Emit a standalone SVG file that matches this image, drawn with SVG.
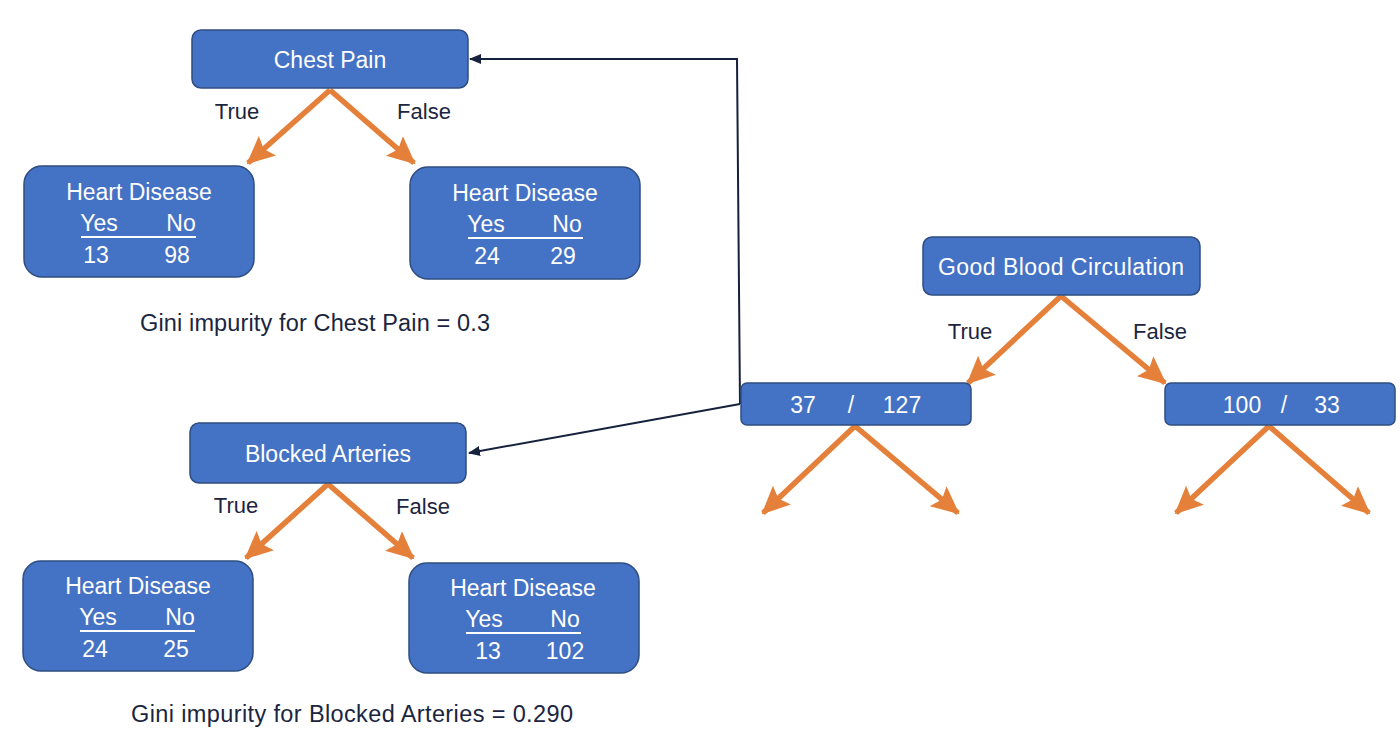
<svg xmlns="http://www.w3.org/2000/svg" width="1400" height="755" viewBox="0 0 1400 755">
<defs>
<style>
.box{fill:#4472C4;stroke:#2F4D80;stroke-width:1.5}
.wt{fill:#FFFFFF;font-family:"Liberation Sans",Arial,sans-serif;font-size:23px;text-anchor:middle}
.lb{fill:#1B2540;font-family:"Liberation Sans",Arial,sans-serif;font-size:22px;text-anchor:middle}
.gi{fill:#1B2540;font-family:"Liberation Sans",Arial,sans-serif;font-size:23.5px}
.ul{stroke:#FFFFFF;stroke-width:2}
.or{stroke:#E5803A;stroke-width:5.5;fill:none;marker-end:url(#oa)}
.nv{stroke:#16213D;stroke-width:2;fill:none;marker-end:url(#na)}
</style>
<marker id="oa" markerUnits="userSpaceOnUse" markerWidth="28" markerHeight="26" viewBox="0 0 28 26" refX="26" refY="13" orient="auto">
<path d="M0,0 L28,13 L0,26 L5,13 z" fill="#E5803A"/>
</marker>
<marker id="na" markerUnits="userSpaceOnUse" markerWidth="12" markerHeight="10" viewBox="0 0 12 10" refX="11" refY="5" orient="auto">
<path d="M0,0 L12,5 L0,10 z" fill="#16213D"/>
</marker>
</defs>
<rect width="1400" height="755" fill="#FFFFFF"/>

<g id="connectors">
<path class="or" d="M330,90 L248,163"/>
<path class="or" d="M330,90 L414,163"/>
<path class="or" d="M328,484 L246,558"/>
<path class="or" d="M328,484 L413,558"/>
<path class="or" d="M1061,296 L968,383"/>
<path class="or" d="M1061,296 L1165,383"/>
<path class="or" d="M855,426 L763,513"/>
<path class="or" d="M855,426 L958,513"/>
<path class="or" d="M1269,426 L1176,513"/>
<path class="or" d="M1269,426 L1369,513"/>
<path class="nv" d="M740,404 L737,59 L470,59"/>
<path class="nv" d="M740,404 L469,453"/>
</g>

<g id="labels">
<text class="lb" x="237" y="119">True</text>
<text class="lb" x="424" y="119">False</text>
<text class="lb" x="236" y="513">True</text>
<text class="lb" x="423" y="514">False</text>
<text class="lb" x="970" y="339">True</text>
<text class="lb" x="1160" y="339">False</text>
<text class="gi" x="140" y="331" textLength="350" lengthAdjust="spacing">Gini impurity for Chest Pain = 0.3</text>
<text class="gi" x="131" y="722" textLength="442" lengthAdjust="spacing">Gini impurity for Blocked Arteries = 0.290</text>
</g>

<g id="chest-pain">
<rect class="box" x="192" y="30" width="276" height="58" rx="9"/>
<text class="wt" x="330" y="68">Chest Pain</text>
</g>

<g id="cp-true">
<rect class="box" x="24" y="166" width="230" height="111" rx="18"/>
<text class="wt" x="139" y="200">Heart Disease</text>
<text class="wt" x="99" y="231">Yes</text>
<text class="wt" x="181" y="231">No</text>
<line class="ul" x1="81" y1="237" x2="196" y2="237"/>
<text class="wt" x="96" y="263">13</text>
<text class="wt" x="177" y="263">98</text>
</g>

<g id="cp-false">
<rect class="box" x="410" y="167" width="230" height="112" rx="18"/>
<text class="wt" x="525" y="201">Heart Disease</text>
<text class="wt" x="486" y="232">Yes</text>
<text class="wt" x="567" y="232">No</text>
<line class="ul" x1="468" y1="238" x2="583" y2="238"/>
<text class="wt" x="487" y="264">24</text>
<text class="wt" x="563" y="264">29</text>
</g>

<g id="blocked-arteries">
<rect class="box" x="190" y="423" width="276" height="60" rx="9"/>
<text class="wt" x="328" y="462">Blocked Arteries</text>
</g>

<g id="ba-true">
<rect class="box" x="23" y="561" width="230" height="110" rx="18"/>
<text class="wt" x="138" y="594">Heart Disease</text>
<text class="wt" x="98" y="625">Yes</text>
<text class="wt" x="180" y="625">No</text>
<line class="ul" x1="80" y1="631" x2="195" y2="631"/>
<text class="wt" x="95" y="657">24</text>
<text class="wt" x="176" y="657">25</text>
</g>

<g id="ba-false">
<rect class="box" x="409" y="563" width="230" height="110" rx="18"/>
<text class="wt" x="523" y="596">Heart Disease</text>
<text class="wt" x="484" y="627">Yes</text>
<text class="wt" x="565" y="627">No</text>
<line class="ul" x1="466" y1="633" x2="581" y2="633"/>
<text class="wt" x="488" y="659">13</text>
<text class="wt" x="565" y="659">102</text>
</g>

<g id="good-blood-circulation">
<rect class="box" x="923" y="237" width="277" height="58" rx="9"/>
<text class="wt" x="1061" y="275" textLength="246" lengthAdjust="spacing">Good Blood Circulation</text>
</g>

<g id="gbc-true">
<rect class="box" x="741" y="383" width="230" height="42" rx="6"/>
<text class="wt" x="803" y="413">37</text>
<text class="wt" x="851" y="413">/</text>
<text class="wt" x="902" y="413">127</text>
</g>

<g id="gbc-false">
<rect class="box" x="1165" y="383" width="230" height="42" rx="6"/>
<text class="wt" x="1242" y="413">100</text>
<text class="wt" x="1284" y="413">/</text>
<text class="wt" x="1327" y="413">33</text>
</g>
</svg>
